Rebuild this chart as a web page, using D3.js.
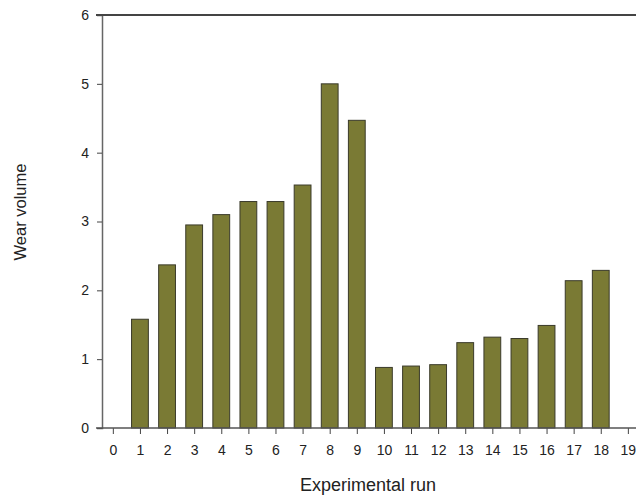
<!DOCTYPE html>
<html>
<head>
<meta charset="utf-8">
<script src="https://cdn.jsdelivr.net/npm/d3@7"></script>
<style>
  html, body { margin: 0; padding: 0; background: #fff; }
  svg { display: block; }
  text { font-family: "Liberation Sans", Arial, sans-serif; fill: #222; }
</style>
</head>
<body>
<svg id="chart" width="636" height="498"></svg>
<script>
// Wear volume for each experimental run
const runs = [1, 2, 3, 4, 5, 6, 7, 8, 9, 10, 11, 12, 13, 14, 15, 16, 17, 18];
const wearVolume = [1.58, 2.37, 2.95, 3.10, 3.29, 3.29, 3.53, 5.0, 4.47,
                    0.88, 0.90, 0.92, 1.24, 1.32, 1.30, 1.49, 2.14, 2.29];
const xTicks = d3.range(0, 20);
const yTicks = [0, 1, 2, 3, 4, 5, 6];

const svg = d3.select("#chart");
const plotLeft = 102, plotRight = 636, plotTop = 15, plotBottom = 428;

const x = d3.scaleLinear().domain([-0.4, 19.3]).range([plotLeft, plotRight]);
const y = d3.scaleLinear().domain([0, 6]).range([plotBottom, plotTop]);
const barW = 0.62 * (x(1) - x(0));

// bars
svg.append("g").selectAll("rect")
  .data(runs.map((r, i) => ({ run: r, v: wearVolume[i] })))
  .join("rect")
  .attr("x", d => x(d.run) - barW / 2)
  .attr("y", d => y(d.v))
  .attr("width", barW)
  .attr("height", d => y(0) - y(d.v))
  .attr("fill", "#7a7a34")
  .attr("stroke", "#3a3a2a")
  .attr("stroke-width", 1);

// y axis
const yAxis = svg.append("g")
  .attr("transform", `translate(${plotLeft},0)`)
  .call(d3.axisLeft(y).tickValues(yTicks).tickSize(5).tickPadding(8).tickFormat(d3.format("d")));
yAxis.select(".domain").attr("stroke", "#666").attr("stroke-width", 1.5);
yAxis.selectAll(".tick line").attr("stroke", "#444");
yAxis.selectAll(".tick text").attr("font-size", 14).attr("fill", "#222");

// x axis
const xAxis = svg.append("g")
  .attr("transform", `translate(0,${plotBottom})`)
  .call(d3.axisBottom(x).tickValues(xTicks).tickSize(6).tickPadding(11).tickFormat(d3.format("d")));
xAxis.select(".domain").remove();
xAxis.append("line")
  .attr("x1", plotLeft - 6).attr("x2", plotRight)
  .attr("y1", 0).attr("y2", 0)
  .attr("stroke", "#555").attr("stroke-width", 1.5);
xAxis.selectAll(".tick line").attr("stroke", "#444");
xAxis.selectAll(".tick text").attr("font-size", 14).attr("fill", "#222");

// top frame line
svg.append("line")
  .attr("x1", plotLeft - 6).attr("x2", plotRight)
  .attr("y1", y(6)).attr("y2", y(6))
  .attr("stroke", "#444").attr("stroke-width", 2);

// axis titles
svg.append("text")
  .attr("x", 368).attr("y", 491)
  .attr("text-anchor", "middle")
  .attr("font-size", 18)
  .text("Experimental run");

svg.append("text")
  .attr("transform", `translate(26,212) rotate(-90)`)
  .attr("text-anchor", "middle")
  .attr("font-size", 16.5)
  .text("Wear volume");
</script>
</body>
</html>
